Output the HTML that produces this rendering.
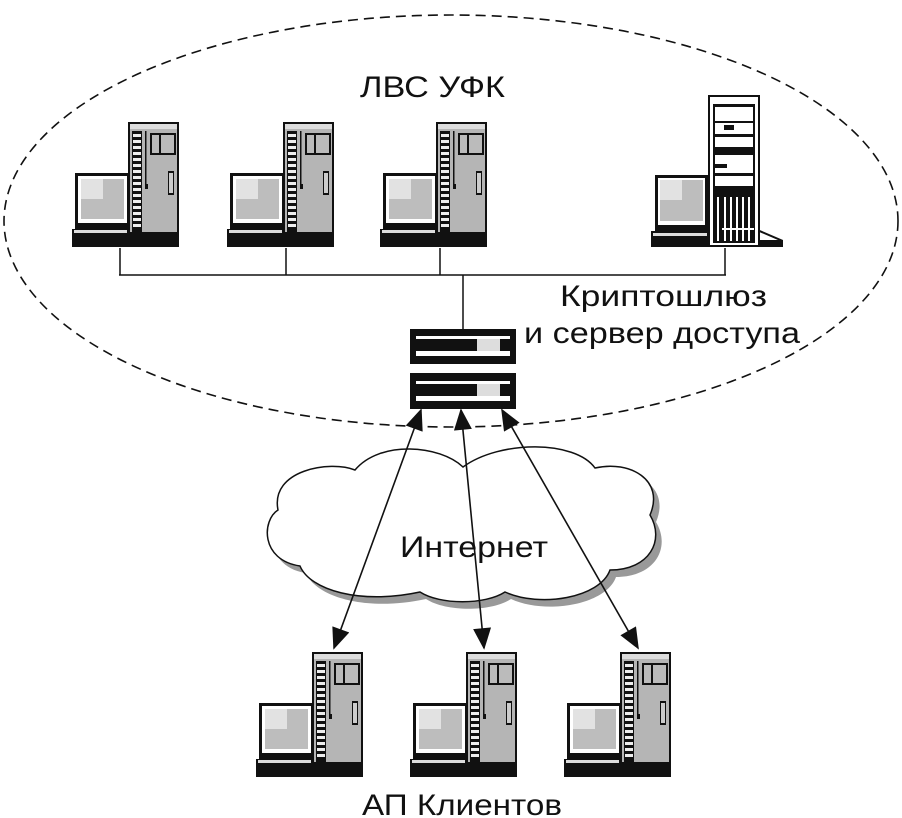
<!DOCTYPE html>
<html><head><meta charset="utf-8"><style>
html,body{margin:0;padding:0;background:#fff;}
svg{display:block;}
text{font-family:"Liberation Sans","DejaVu Sans",sans-serif;fill:#111;}
</style></head><body>
<svg width="902" height="818" viewBox="0 0 902 818" xmlns="http://www.w3.org/2000/svg">
<defs>
<g id="ws">
  <rect x="-53" y="51" width="55" height="57" fill="#111"/>
  <rect x="-50" y="54" width="49" height="47" fill="#fff"/>
  <rect x="-47" y="57" width="43" height="40" fill="#bdbdbd"/>
  <rect x="-47" y="57" width="22" height="20" fill="#e2e2e2"/>
  <rect x="-40" y="101" width="22" height="6" fill="#111"/>
  <rect x="-56" y="107" width="57" height="6" fill="#111"/>
  <rect x="-54" y="108" width="53" height="3" fill="#ddd"/>
  <rect x="-56" y="113" width="57" height="12" fill="#111"/>
  <rect x="0" y="0" width="51" height="125" fill="#111"/>
  <rect x="2" y="2" width="47" height="108" fill="#b5b5b5"/>
  <rect x="2" y="2" width="47" height="5" fill="#ddd"/>
  <rect x="4" y="9" width="10" height="101" fill="#111"/>
  <g fill="#eee">
    <rect x="5" y="12" width="8" height="3"/><rect x="5" y="18" width="8" height="3"/><rect x="5" y="24" width="8" height="3"/><rect x="5" y="30" width="8" height="3"/><rect x="5" y="36" width="8" height="3"/><rect x="5" y="42" width="8" height="3"/><rect x="5" y="48" width="8" height="3"/><rect x="5" y="54" width="8" height="3"/><rect x="5" y="60" width="8" height="3"/><rect x="5" y="66" width="8" height="3"/><rect x="5" y="72" width="8" height="3"/><rect x="5" y="78" width="8" height="3"/><rect x="5" y="84" width="8" height="3"/><rect x="5" y="90" width="8" height="3"/><rect x="5" y="96" width="8" height="3"/><rect x="5" y="102" width="8" height="3"/>
  </g>
  <rect x="17" y="9" width="1.5" height="56" fill="#111"/>
  <rect x="17" y="62" width="3" height="5" fill="#111"/>
  <rect x="22" y="11" width="26" height="22" fill="#111"/>
  <rect x="24" y="13" width="7" height="18" fill="#bbb"/>
  <rect x="33" y="13" width="13" height="18" fill="#bbb"/>
  <rect x="40" y="49" width="6" height="24" fill="#111"/>
  <rect x="41" y="51" width="4" height="20" fill="#ccc"/>
</g>
<marker id="ah2" viewBox="0 0 12 10" refX="11" refY="5" markerWidth="22" markerHeight="18" orient="auto-start-reverse" markerUnits="userSpaceOnUse">
  <path d="M0,0 L12,5 L0,10 Z" fill="#111"/>
</marker>
</defs>

<ellipse cx="451" cy="221" rx="447" ry="206" fill="none" stroke="#111" stroke-width="1.6" stroke-dasharray="10,6"/>

<text x="360" y="97" font-size="30" textLength="145" lengthAdjust="spacingAndGlyphs">ЛВС УФК</text>

<use href="#ws" x="128" y="122"/>
<use href="#ws" x="283" y="122"/>
<use href="#ws" x="436" y="122"/>

<g>
  <rect x="655" y="175" width="53" height="56" fill="#111"/>
  <rect x="658" y="178" width="47" height="47" fill="#fff"/>
  <rect x="660" y="180" width="43" height="41" fill="#bdbdbd"/>
  <rect x="660" y="180" width="22" height="20" fill="#e2e2e2"/>
  <rect x="651" y="231" width="58" height="16" fill="#111"/>
  <rect x="653" y="233" width="54" height="3" fill="#ddd"/>
  <path d="M755,228 L783,240 L783,247 L755,247 Z" fill="#111"/>
  <path d="M757,231 L778,240 L757,240 Z" fill="#fff"/>
  <rect x="708" y="95" width="52" height="152" fill="#111"/>
  <rect x="710" y="97" width="48" height="148" fill="#fff"/>
  <rect x="713" y="104" width="42" height="100" fill="#111"/>
  <rect x="715" y="107" width="38" height="14" fill="#fff"/>
  <rect x="715" y="123" width="38" height="11" fill="#fff"/>
  <rect x="724" y="125" width="10" height="5" fill="#111"/>
  <rect x="715" y="137" width="38" height="10" fill="#fff"/>
  <rect x="715" y="155" width="38" height="18" fill="#fff"/>
  <rect x="715" y="164" width="12" height="4" fill="#111"/>
  <rect x="715" y="176" width="38" height="10" fill="#fff"/>
  <rect x="713" y="195" width="42" height="48" fill="#111"/>
  <g fill="#fff">
    <rect x="717" y="197" width="2" height="44"/><rect x="724" y="197" width="2" height="44"/><rect x="730" y="197" width="2" height="44"/><rect x="736" y="197" width="2" height="44"/><rect x="742" y="197" width="2" height="44"/><rect x="748" y="197" width="2" height="44"/>
    <rect x="722" y="228" width="32" height="2"/>
  </g>
</g>

<g stroke="#111" stroke-width="1.5" fill="none">
  <line x1="120" y1="248" x2="120" y2="275"/>
  <line x1="286" y1="248" x2="286" y2="275"/>
  <line x1="440" y1="248" x2="440" y2="275"/>
  <line x1="725" y1="248" x2="725" y2="275"/>
  <line x1="119" y1="275" x2="726" y2="275"/>
  <line x1="463" y1="275" x2="463" y2="330"/>
</g>

<text x="560" y="306" font-size="30" textLength="207" lengthAdjust="spacingAndGlyphs">Криптошлюз</text>
<text x="524" y="343" font-size="30" textLength="276" lengthAdjust="spacingAndGlyphs">и сервер доступа</text>

<g>
  <rect x="410" y="329" width="106" height="35" fill="#111"/>
  <rect x="416" y="336" width="94" height="3" fill="#fff"/>
  <rect x="416" y="351" width="94" height="5" fill="#fff"/>
  <rect x="477" y="339" width="23" height="12" fill="#ddd"/>
  <rect x="410" y="373" width="106" height="36" fill="#111"/>
  <rect x="416" y="381" width="94" height="3" fill="#fff"/>
  <rect x="416" y="396" width="94" height="5" fill="#fff"/>
  <rect x="477" y="384" width="23" height="12" fill="#ddd"/>
</g>

<g transform="translate(6,7)">
<path d="M463,467 C440,445 380,440 355,470 C330,460 270,470 278,510 C262,520 260,560 300,566 C310,590 360,605 420,592 C440,605 485,605 505,592 C540,608 600,598 610,570 C650,570 665,540 650,515 C665,480 630,460 595,468 C575,440 500,440 463,467 Z" fill="#999"/>
</g>
<path d="M463,467 C440,445 380,440 355,470 C330,460 270,470 278,510 C262,520 260,560 300,566 C310,590 360,605 420,592 C440,605 485,605 505,592 C540,608 600,598 610,570 C650,570 665,540 650,515 C665,480 630,460 595,468 C575,440 500,440 463,467 Z" fill="#fff" stroke="#111" stroke-width="1.5"/>

<text x="400" y="557" font-size="30" textLength="148" lengthAdjust="spacingAndGlyphs">Интернет</text>

<g stroke="#111" stroke-width="1.6" fill="none">
  <line x1="421" y1="410" x2="334" y2="648" marker-start="url(#ah2)" marker-end="url(#ah2)"/>
  <line x1="461" y1="410" x2="484" y2="648" marker-start="url(#ah2)" marker-end="url(#ah2)"/>
  <line x1="502" y1="410" x2="638" y2="648" marker-start="url(#ah2)" marker-end="url(#ah2)"/>
</g>

<use href="#ws" x="312" y="652"/>
<use href="#ws" x="466" y="652"/>
<use href="#ws" x="620" y="652"/>

<text x="362" y="815" font-size="30" textLength="200" lengthAdjust="spacingAndGlyphs">АП Клиентов</text>
</svg>
</body></html>
